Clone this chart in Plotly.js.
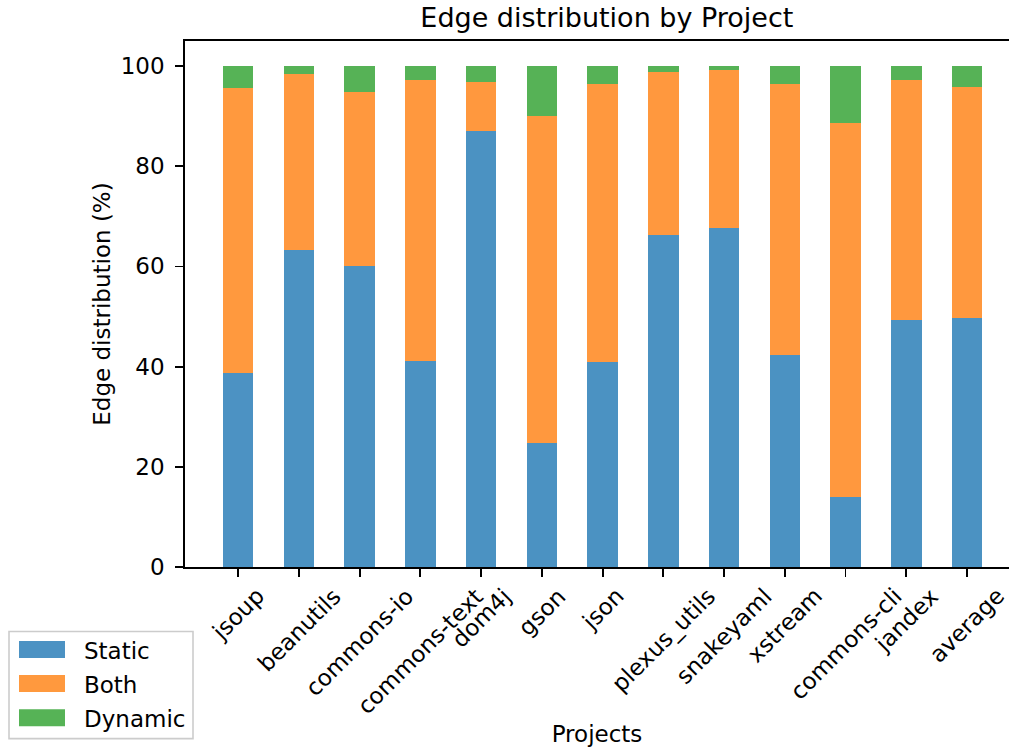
<!DOCTYPE html>
<html>
<head>
<meta charset="utf-8">
<script src="https://cdn.plot.ly/plotly-3.0.1.min.js"></script>
<style>html,body{margin:0;padding:0;background:#fff;}#chart{width:1009px;height:749px;}</style>
</head>
<body>
<div id="chart"></div>
<script>
const projects = ["jsoup","beanutils","commons-io","commons-text","dom4j","gson","json","plexus_utils","snakeyaml","xstream","commons-cli","jandex","average"];
const staticPct  = [38.8, 63.2, 60.0, 41.2, 87.1, 24.7, 40.9, 66.2, 67.6, 42.4, 14.0, 49.4, 49.7];
const bothPct    = [56.9, 35.3, 34.9, 56.1,  9.8, 65.4, 55.6, 32.6, 31.7, 54.1, 74.6, 47.8, 46.2];
const dynamicPct = [ 4.3,  1.5,  5.1,  2.7,  3.1,  9.9,  3.5,  1.2,  0.7,  3.5, 11.4,  2.8,  4.1];
const seriesNames = ["Static", "Both", "Dynamic"];
const seriesColors = ["#1f77b4", "#ff7f0e", "#2ca02c"];
const yTicks = [0, 20, 40, 60, 80, 100];

const FONT = "DejaVu Sans, sans-serif";
const idx = projects.map((_, i) => i);
const seriesValues = [staticPct, bothPct, dynamicPct];

const traces = seriesNames.map((name, k) => ({
  type: "bar", name: name, x: idx, y: seriesValues[k], width: 0.5,
  marker: {color: seriesColors[k], line: {width: 0}}, opacity: 0.8,
  hoverinfo: "skip", showlegend: false
}));

// plot area geometry (px) for converting legend placement to paper coords
const L = 185, PW = 824, T = 41, PH = 525.5;
const px = v => (v - L) / PW;
const py = v => (T + PH - v) / PH;

const annotations = projects.map((p, i) => ({
  text: p, x: i, xref: "x", y: -0.025, yref: "paper",
  xanchor: "center", yanchor: "top", textangle: -45, showarrow: false,
  font: {family: FONT, size: 23, color: "#000"}
}));

// legend drawn as a framed box with colour patches and labels
const shapes = [{
  type: "rect", xref: "paper", yref: "paper",
  x0: px(9), x1: px(193), y0: py(738), y1: py(631),
  line: {color: "#cccccc", width: 1.6}, fillcolor: "rgba(255,255,255,0.8)", layer: "above"
}];
const rowY = [649, 683, 717];
seriesNames.forEach((name, k) => {
  shapes.push({
    type: "rect", xref: "paper", yref: "paper",
    x0: px(19), x1: px(65), y0: py(rowY[k] + 8.5), y1: py(rowY[k] - 8.5),
    line: {width: 0}, fillcolor: seriesColors[k], opacity: 0.8, layer: "above"
  });
  annotations.push({
    text: name, xref: "paper", yref: "paper", x: px(82), y: py(rowY[k] + 1),
    xanchor: "left", yanchor: "middle", showarrow: false,
    font: {family: FONT, size: 23, color: "#000"}
  });
});

const layout = {
  width: 1009, height: 749,
  margin: {l: 185, r: 0, t: 41, b: 182, pad: 0},
  paper_bgcolor: "#fff", plot_bgcolor: "#fff",
  barmode: "stack",
  font: {family: FONT, size: 23, color: "#000"},
  title: {text: "Edge distribution by Project", x: 0.512, xref: "paper", xanchor: "center",
          y: 0.976, yref: "container", yanchor: "middle", font: {family: FONT, size: 27, color: "#000"}},
  xaxis: {
    range: [-0.875, 12.69], tickvals: idx, ticktext: projects, showticklabels: false,
    ticks: "outside", ticklen: 8, tickwidth: 1.8, tickcolor: "#000",
    showline: true, linecolor: "#000", linewidth: 1.8, mirror: true,
    showgrid: false, zeroline: false, fixedrange: true,
    title: {text: "Projects", standoff: 150, font: {family: FONT, size: 23, color: "#000"}}
  },
  yaxis: {
    range: [0, 105], tickvals: yTicks, ticktext: yTicks.map(String),
    ticks: "outside", ticklen: 8, tickwidth: 1.8, tickcolor: "#000",
    ticklabelstandoff: 6,
    showline: true, linecolor: "#000", linewidth: 1.8, mirror: false,
    showgrid: false, zeroline: false, fixedrange: true,
    tickfont: {family: FONT, size: 23, color: "#000"},
    title: {text: "Edge distribution (%)", standoff: 4, font: {family: FONT, size: 23, color: "#000"}}
  },
  showlegend: false,
  shapes: shapes,
  annotations: annotations
};

Plotly.newPlot("chart", traces, layout, {staticPlot: true, displayModeBar: false});
</script>
</body>
</html>
